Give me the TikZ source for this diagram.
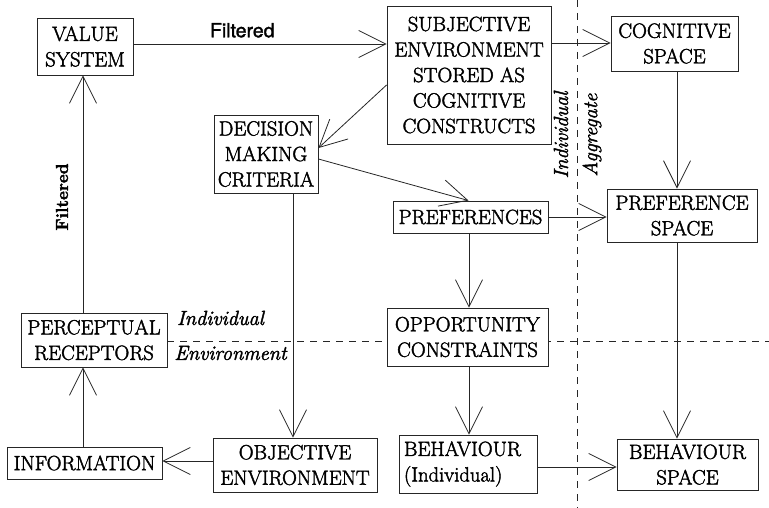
\documentclass[tikz,border=0pt]{standalone}
\usepackage{fontspec}
\setmainfont{Latin Modern Roman}[FakeBold=2]
\newfontfamily\labelsans{TeX Gyre Heros}[FakeBold=1.5]
\usetikzlibrary{arrows.meta,backgrounds}

\begin{document}
\begin{tikzpicture}[x=1pt,y=-1pt,
  box/.style={draw=black!85, line width=0.9pt, fill=white, inner sep=0pt,
    align=center, font=\fontsize{20.6}{25.5}\selectfont},
  arr/.style={draw=black!85, line width=0.8pt,
    -{Straight Barb[length=27pt,width=27pt,line width=0.8pt]}},
  divider/.style={draw=black!85, line width=0.8pt, dash pattern=on 7pt off 6pt},
  zone/.style={font=\fontsize{20.4}{24}\selectfont\itshape, inner sep=0pt},
]
\useasboundingbox (0,0) rectangle (769,508);

% boxes
\node[box, minimum width=96pt,  minimum height=57pt]  (val)    at (85,46.5)   {VALUE\\SYSTEM};
\node[box, minimum width=164pt, minimum height=138pt] (subj)   at (469,75)    {SUBJECTIVE\\ENVIRONMENT\\STORED AS\\COGNITIVE\\CONSTRUCTS};
\node[box, minimum width=127pt, minimum height=55pt]  (cog)    at (674.5,43.5){COGNITIVE\\SPACE};
\node[box, minimum width=104pt, minimum height=78pt]  (dec)    at (266,154)   {DECISION\\MAKING\\CRITERIA};
\node[box, minimum width=155pt, minimum height=32pt]  (pref)   at (470.5,217) {PREFERENCES};
\node[box, minimum width=150pt, minimum height=53pt]  (prefsp) at (682,215.5) {PREFERENCE\\SPACE};
\node[box, minimum width=146pt, minimum height=54pt]  (perc)   at (94,340)    {PERCEPTUAL\\RECEPTORS};
\node[box, minimum width=161pt, minimum height=58pt]  (opp)    at (467.5,337) {OPPORTUNITY\\CONSTRAINTS};
\node[box, minimum width=155pt, minimum height=32pt]  (info)   at (84.5,463)  {INFORMATION};
\node[box, minimum width=164pt, minimum height=54pt]  (obj)    at (295,465)   {OBJECTIVE\\ENVIRONMENT};
\node[box, minimum width=138pt, minimum height=58pt, align=left, text width=128pt]
                                                      (beh)    at (468,464)   {BEHAVIOUR\\(Individual)};
\node[box, minimum width=141pt, minimum height=51pt]  (behsp)  at (687.5,464.5){BEHAVIOUR\\SPACE};

% divisions: individual / environment and individual / aggregate
\begin{pgfonlayer}{background}
  \coordinate (topdiv) at (577,0);
  \coordinate (botdiv) at (577,508);
  \coordinate (rightdiv) at (769,341);
  \draw[divider] (topdiv) -- (botdiv);
  \draw[divider] (perc.east |- rightdiv) -- (rightdiv);
\end{pgfonlayer}

\node[zone] (lindiv) at (220.5,318) {Individual};
\node[zone] (lenv)   at (230.5,353) {Environment};
\node[zone, rotate=90] (vind) at (561,135) {Individual};
\node[zone, rotate=90] (vagg) at (592,135) {Aggregate};

% flows
\draw[arr] ([yshift=2.5pt]val.east) -- node[pos=0.43, above=6pt, inner sep=0pt,
  font=\labelsans\fontsize{19.5}{22}\selectfont] (filt1) {Filtered} ([yshift=31pt]subj.west);
\draw[arr] ([yshift=32pt]subj.east) -- ([yshift=0.5pt]cog.west);
\draw[arr] ([yshift=-10pt]subj.west) -- ([yshift=6pt]dec.east);
\draw[arr] ([yshift=-5pt]dec.east) -- ([xshift=-2pt]pref.north);
\draw[arr] (pref.east) -- ([yshift=-1.5pt]prefsp.west);
\draw[arr] ([xshift=2.5pt]cog.south) -- ([xshift=-5pt]prefsp.north);
\draw[arr] ([xshift=-1.5pt]pref.south) -- ([xshift=1.5pt]opp.north);
\draw[arr] ([xshift=1.5pt]opp.south) -- ([xshift=1pt]beh.north);
\draw[arr] ([xshift=-5pt]prefsp.south) -- ([xshift=-10.5pt]behsp.north);
\draw[arr] ([yshift=-3pt]beh.east) -- ([yshift=-2.5pt]behsp.west);
\draw[arr] ([xshift=27pt]dec.south) -- ([xshift=-2pt]obj.north);
\draw[arr] ([yshift=4pt]obj.west) -- ([yshift=2pt]info.east);
\draw[arr] ([xshift=-1.5pt]info.north) -- ([xshift=-11pt]perc.south);
\draw[arr] ([xshift=-11pt]perc.north) -- ([xshift=-2pt]val.south);
\node[rotate=90, inner sep=0pt, font=\bfseries\fontsize{17.3}{22}\selectfont] (filt2) at (62,197) {Filtered};
\end{tikzpicture}
\end{document}
